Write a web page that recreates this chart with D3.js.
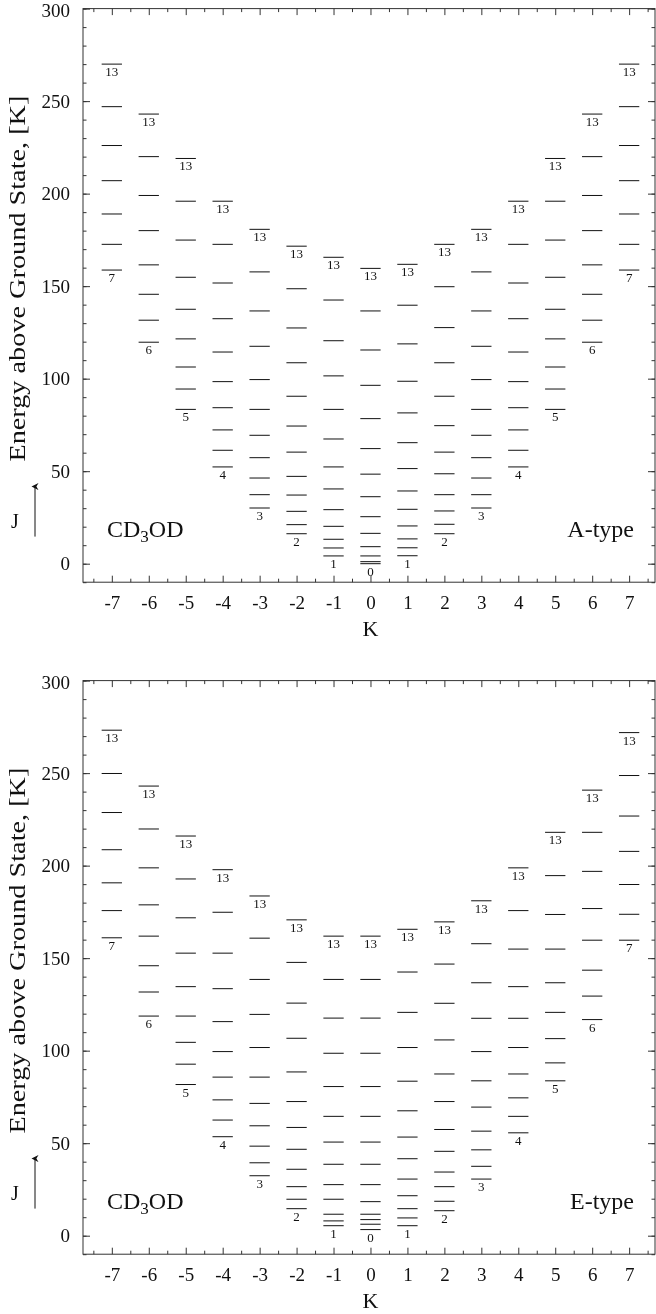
<!DOCTYPE html>
<html>
<head>
<meta charset="utf-8">
<script src="https://cdn.jsdelivr.net/npm/d3@7"></script>
<style>
  body { margin: 0; background: #fff; }
  svg { display: block; will-change: transform; }
  text { font-family: "Liberation Serif", "DejaVu Serif", serif; fill: #111; }
</style>
</head>
<body>
<svg id="chart" width="656" height="1314"></svg>
<script>
// Rotational ladder of CD3OD: K from -7 to 7, J from |K| up to 13
const kValues = d3.range(-7, 8);
const maxJ = 13;
const energyTicks = [0, 50, 100, 150, 200, 250, 300];
const energyMinorTicks = d3.range(-10, 301, 10);
const kMinorTicks = d3.range(-7.5, 7.6, 1);

// Energies [K] of the A-type levels, one list per K, J = |K| ... 13
const levelsA = [
  [158.7, 172.6, 189.0, 207.0, 226.0, 247.0, 270.0],
  [119.7, 131.6, 145.6, 161.5, 180.0, 199.0, 220.0, 243.0],
  [83.4, 94.4, 106.3, 121.5, 137.5, 154.8, 174.9, 195.9, 219.0],
  [52.3, 61.3, 72.3, 84.3, 98.4, 114.4, 132.4, 151.7, 172.6, 195.9],
  [30.1, 37.3, 46.3, 57.3, 69.4, 83.4, 99.5, 117.5, 136.6, 157.7, 180.7],
  [16.2, 21.1, 28.3, 37.1, 47.2, 60.3, 74.4, 90.5, 108.6, 127.4, 148.6, 171.6],
  [4.2, 8.5, 13.2, 20.2, 29.2, 40.4, 52.3, 67.4, 83.4, 101.5, 120.5, 142.5, 165.6],
  [0.0, 1.1, 4.2, 9.2, 16.4, 25.4, 36.2, 48.4, 62.2, 78.4, 96.4, 115.5, 136.6, 159.6],
  [4.3, 8.6, 13.4, 20.4, 29.4, 39.3, 51.4, 65.4, 81.5, 98.6, 118.8, 139.7, 161.8],
  [16.2, 21.3, 28.5, 37.3, 48.6, 60.3, 74.6, 90.5, 108.6, 127.6, 149.7, 172.6],
  [30.1, 37.3, 46.3, 57.3, 69.4, 83.4, 99.5, 117.5, 136.6, 157.7, 180.7],
  [52.3, 61.3, 72.3, 84.3, 98.4, 114.4, 132.4, 151.7, 172.6, 195.9],
  [83.4, 94.4, 106.3, 121.5, 137.5, 154.8, 174.9, 195.9, 219.0],
  [119.7, 131.6, 145.6, 161.5, 180.0, 199.0, 220.0, 243.0],
  [158.7, 172.6, 189.0, 207.0, 226.0, 247.0, 270.0]
];

// Energies [K] of the E-type levels, one list per K, J = |K| ... 13
const levelsE = [
  [161.0, 175.7, 190.7, 208.6, 228.7, 249.8, 273.2],
  [118.7, 131.7, 145.9, 161.9, 178.8, 198.8, 219.8, 243.0],
  [81.7, 92.7, 104.5, 118.7, 134.6, 152.7, 171.8, 192.8, 216.0],
  [53.5, 62.5, 73.4, 85.7, 99.5, 115.7, 133.5, 152.7, 174.8, 197.8],
  [32.4, 39.4, 48.4, 59.4, 71.5, 85.7, 101.7, 119.6, 138.5, 160.8, 183.6],
  [14.6, 19.7, 26.5, 35.9, 46.7, 58.5, 72.5, 88.5, 106.7, 125.7, 147.7, 170.7],
  [5.4, 8.0, 11.6, 19.7, 27.6, 38.6, 50.6, 64.5, 80.6, 98.6, 117.6, 138.5, 161.9],
  [3.3, 6.2, 8.7, 11.6, 18.4, 27.6, 38.6, 50.6, 64.5, 80.6, 98.6, 117.6, 138.5, 161.9],
  [5.4, 9.6, 14.6, 21.6, 30.6, 41.6, 53.3, 67.5, 83.5, 101.7, 120.7, 142.5, 165.6],
  [13.5, 18.6, 26.5, 34.4, 45.6, 57.4, 72.5, 87.4, 105.8, 125.6, 146.8, 169.6],
  [30.6, 37.5, 46.4, 56.5, 69.5, 83.7, 99.5, 117.5, 136.7, 157.8, 181.0],
  [55.6, 64.5, 74.5, 87.4, 101.7, 117.5, 134.6, 154.9, 175.7, 198.8],
  [83.7, 93.4, 106.5, 120.7, 136.7, 154.9, 173.6, 194.6, 218.0],
  [116.8, 129.5, 143.5, 159.7, 176.8, 196.9, 218.0, 240.8],
  [159.7, 173.7, 189.8, 207.7, 226.8, 248.7, 271.9]
];

const panelTitles = ["A-type", "E-type"];
const moleculeName = ["CD", "3", "OD"];
const xAxisTitle = "K";
const yAxisTitle = "Energy above Ground State, [K]";
const arrowLabel = "J";

// ---- layout ----
const svg = d3.select("#chart");
const plotLeft = 83, plotRight = 655;
const panelTop = [8.6, 680.6];
const panelHeight = 573.6;
const halfDash = 0.275;

const x = d3.scaleLinear().domain([-7.78, 7.7]).range([plotLeft, plotRight]);

svg.append("defs").append("marker")
  .attr("id", "arrowhead")
  .attr("viewBox", "0 0 10 10")
  .attr("refX", 5).attr("refY", 5)
  .attr("markerWidth", 7).attr("markerHeight", 10)
  .attr("markerUnits", "userSpaceOnUse")
  .attr("orient", "auto")
  .append("path").attr("d", "M0,10 L5,0 L10,10 L5,7 Z").attr("fill", "#111");

[levelsA, levelsE].forEach((levels, p) => {
  const top = panelTop[p];
  const bottom = top + panelHeight;
  const y = d3.scaleLinear().domain([-10, 300]).range([bottom, top]);
  const g = svg.append("g");

  // frame
  g.append("rect")
    .attr("x", plotLeft).attr("y", top)
    .attr("width", plotRight - plotLeft).attr("height", panelHeight)
    .attr("fill", "none").attr("stroke", "#333").attr("stroke-width", 1);

  const styleAxis = sel => {
    sel.select(".domain").remove();
    sel.selectAll(".tick line").attr("stroke", "#333");
    sel.selectAll(".tick text")
      .style("font-family", '"Liberation Serif", serif')
      .attr("fill", "#111");
  };

  // left axis with labels and minor ticks
  g.append("g").attr("transform", `translate(${plotLeft},0)`)
    .call(d3.axisLeft(y).tickValues(energyMinorTicks).tickSize(-3.5).tickFormat(""))
    .call(styleAxis);
  g.append("g").attr("transform", `translate(${plotLeft},0)`)
    .call(d3.axisLeft(y).tickValues(energyTicks).tickSize(-7).tickPadding(13))
    .call(styleAxis)
    .selectAll("text")
    .attr("font-size", 19)
    .attr("dy", d => d === 300 ? "0.42em" : "0.32em");

  // right axis, ticks only
  g.append("g").attr("transform", `translate(${plotRight},0)`)
    .call(d3.axisRight(y).tickValues(energyMinorTicks).tickSize(-3.5).tickFormat(""))
    .call(styleAxis);
  g.append("g").attr("transform", `translate(${plotRight},0)`)
    .call(d3.axisRight(y).tickValues(energyTicks).tickSize(-7).tickFormat(""))
    .call(styleAxis);

  // bottom axis
  g.append("g").attr("transform", `translate(0,${bottom})`)
    .call(d3.axisBottom(x).tickValues(kMinorTicks).tickSize(-3.5).tickFormat(""))
    .call(styleAxis);
  g.append("g").attr("transform", `translate(0,${bottom})`)
    .call(d3.axisBottom(x).tickValues(kValues).tickSize(-6.5).tickPadding(13)
      .tickFormat(d => d < 0 ? "-" + Math.abs(d) : String(d)))
    .call(styleAxis)
    .selectAll("text").attr("font-size", 19);

  // top axis, ticks only
  g.append("g").attr("transform", `translate(0,${top})`)
    .call(d3.axisTop(x).tickValues(kMinorTicks).tickSize(-3.5).tickFormat(""))
    .call(styleAxis);
  g.append("g").attr("transform", `translate(0,${top})`)
    .call(d3.axisTop(x).tickValues(kValues).tickSize(-6.5).tickFormat(""))
    .call(styleAxis);

  // energy levels
  kValues.forEach((k, i) => {
    const jMin = Math.abs(k);
    const col = g.append("g");
    col.selectAll("line")
      .data(levels[i])
      .join("line")
      .attr("x1", x(k - halfDash)).attr("x2", x(k + halfDash))
      .attr("y1", d => y(d)).attr("y2", d => y(d))
      .attr("stroke", "#111").attr("stroke-width", 1);

    const ends = [
      { j: jMin, e: levels[i][0] },
      { j: maxJ, e: levels[i][levels[i].length - 1] }
    ];
    col.selectAll("text")
      .data(ends)
      .join("text")
      .attr("x", x(k))
      .attr("y", d => y(d.e) + 12)
      .attr("text-anchor", "middle")
      .attr("font-size", 13)
      .text(d => d.j);
  });

  // axis titles
  g.append("text")
    .attr("x", x(0)).attr("y", bottom + 54)
    .attr("text-anchor", "middle")
    .attr("font-size", 22)
    .text(xAxisTitle);

  g.append("text")
    .attr("transform", `translate(25,${top + 270}) rotate(-90)`)
    .attr("text-anchor", "middle")
    .attr("font-size", 23)
    .attr("textLength", 366)
    .attr("lengthAdjust", "spacingAndGlyphs")
    .text(yAxisTitle);

  // J direction marker
  g.append("text")
    .attr("x", 11).attr("y", top + 519)
    .attr("font-size", 20)
    .text(arrowLabel);
  g.append("line")
    .attr("x1", 35).attr("x2", 35)
    .attr("y1", top + 528).attr("y2", top + 478)
    .attr("stroke", "#111").attr("stroke-width", 1)
    .attr("marker-end", "url(#arrowhead)");

  // molecule and symmetry labels
  const mol = g.append("text")
    .attr("x", 107).attr("y", top + 528)
    .attr("font-size", 24);
  mol.append("tspan").text(moleculeName[0]);
  mol.append("tspan").attr("font-size", 17).attr("dy", 5).text(moleculeName[1]);
  mol.append("tspan").attr("dy", -5).text(moleculeName[2]);

  g.append("text")
    .attr("x", 634).attr("y", top + 528)
    .attr("text-anchor", "end")
    .attr("font-size", 24)
    .text(panelTitles[p]);
});
</script>
</body>
</html>
